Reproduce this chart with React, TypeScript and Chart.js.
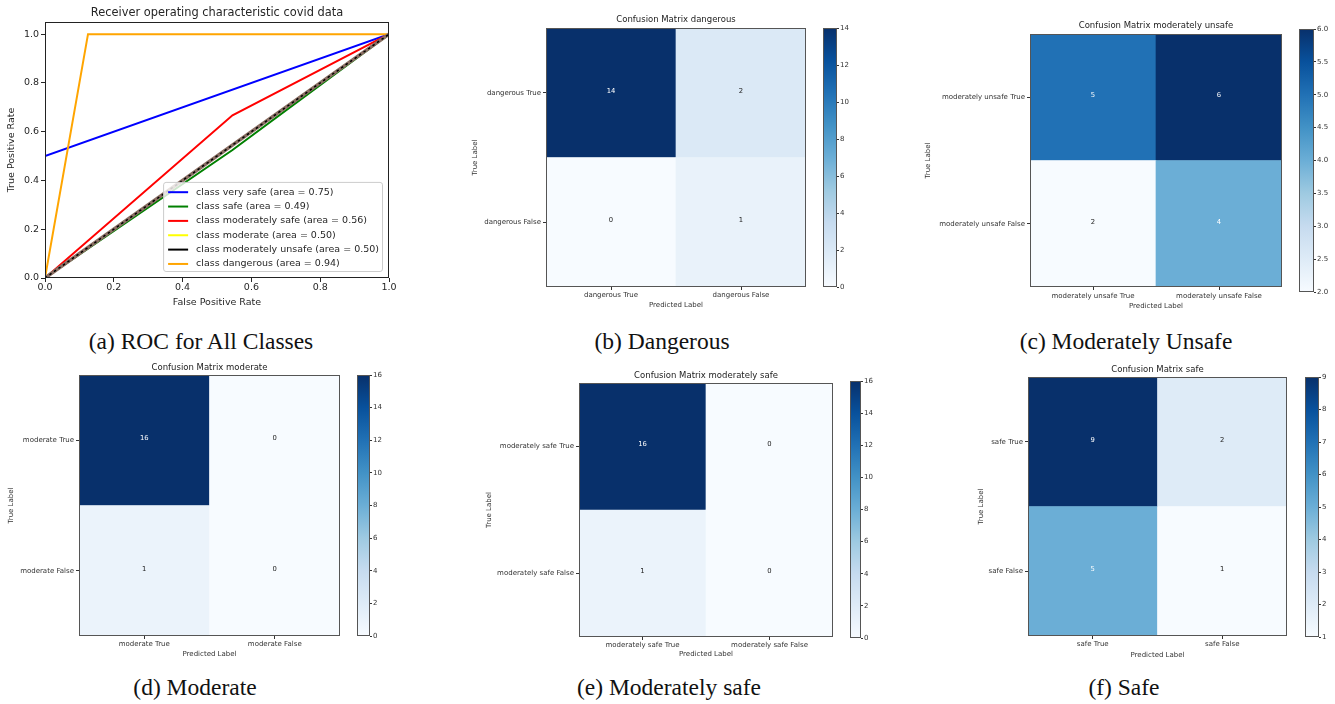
import React, { useEffect, useRef } from 'react';
import { Chart, registerables } from 'chart.js';

Chart.register(...registerables);

const FONT = 'DejaVu Sans';
Chart.defaults.font.family = FONT;
Chart.defaults.color = '#333';

// ---------- ROC data ----------
const ROC_CLASSES = ['very safe', 'safe', 'moderately safe', 'moderate', 'moderately unsafe', 'dangerous'];
const ROC_AUC = [0.75, 0.49, 0.56, 0.5, 0.5, 0.94];
const ROC_FPR = [[0, 0, 1], [0, 0.545, 1], [0, 0.545, 1], [0, 1], [0, 1], [0, 0.125, 1]];
const ROC_TPR = [[0, 0.5, 1], [0, 0.525, 1], [0, 0.667, 1], [0, 1], [0, 1], [0, 1, 1]];
const ROC_COLORS = ['#0000ff', '#008000', '#ff0000', '#ffff00', '#000000', '#ffa500'];
const CHANCE_X = [0, 1];
const CHANCE_Y = [0, 1];
const ROC_TICKS = [0, 0.2, 0.4, 0.6, 0.8, 1.0];

// ---------- Confusion matrices ----------
const DANGEROUS_LABELS = ['dangerous True', 'dangerous False'];
const DANGEROUS_CM = [[14, 2], [0, 1]];
const DANGEROUS_CBAR = [0, 2, 4, 6, 8, 10, 12, 14];

const MOD_UNSAFE_LABELS = ['moderately unsafe True', 'moderately unsafe False'];
const MOD_UNSAFE_CM = [[5, 6], [2, 4]];
const MOD_UNSAFE_CBAR = [2, 2.5, 3, 3.5, 4, 4.5, 5, 5.5, 6];

const MODERATE_LABELS = ['moderate True', 'moderate False'];
const MODERATE_CM = [[16, 0], [1, 0]];
const MODERATE_CBAR = [0, 2, 4, 6, 8, 10, 12, 14, 16];

const MOD_SAFE_LABELS = ['moderately safe True', 'moderately safe False'];
const MOD_SAFE_CM = [[16, 0], [1, 0]];
const MOD_SAFE_CBAR = [0, 2, 4, 6, 8, 10, 12, 14, 16];

const SAFE_LABELS = ['safe True', 'safe False'];
const SAFE_CM = [[9, 2], [5, 1]];
const SAFE_CBAR = [1, 2, 3, 4, 5, 6, 7, 8, 9];

const CAPTIONS = ['(a) ROC for All Classes', '(b) Dangerous', '(c) Moderately Unsafe', '(d) Moderate', '(e) Moderately safe', '(f) Safe'];

// ---------- layout ----------
const CAPTION_POS = [
  { x: 201, y: 342 }, { x: 662, y: 342 }, { x: 1126, y: 342 },
  { x: 195, y: 688 }, { x: 669, y: 688 }, { x: 1124, y: 688 },
];

const PANELS = [
  { id: 'b', title: 'Confusion Matrix dangerous', labels: DANGEROUS_LABELS, cm: DANGEROUS_CM, cbar: DANGEROUS_CBAR,
    box: { L: 546, R: 806, T: 28, B: 287 }, cb: { L: 823, R: 837, T: 28, B: 287 }, titleY: 20, yTitleX: 475, xTickY: 295, xLabelY: 305 },
  { id: 'c', title: 'Confusion Matrix moderately unsafe', labels: MOD_UNSAFE_LABELS, cm: MOD_UNSAFE_CM, cbar: MOD_UNSAFE_CBAR,
    box: { L: 1030, R: 1282, T: 34, B: 287 }, cb: { L: 1299, R: 1314, T: 29, B: 292 }, titleY: 26, yTitleX: 928, xTickY: 296, xLabelY: 306 },
  { id: 'd', title: 'Confusion Matrix moderate', labels: MODERATE_LABELS, cm: MODERATE_CM, cbar: MODERATE_CBAR,
    box: { L: 79, R: 340, T: 375, B: 636 }, cb: { L: 357, R: 370, T: 375, B: 636 }, titleY: 368, yTitleX: 11, xTickY: 644, xLabelY: 654 },
  { id: 'e', title: 'Confusion Matrix moderately safe', labels: MOD_SAFE_LABELS, cm: MOD_SAFE_CM, cbar: MOD_SAFE_CBAR,
    box: { L: 579, R: 833, T: 383, B: 637 }, cb: { L: 850, R: 861, T: 381, B: 638 }, titleY: 376, yTitleX: 489, xTickY: 645, xLabelY: 654 },
  { id: 'f', title: 'Confusion Matrix safe', labels: SAFE_LABELS, cm: SAFE_CM, cbar: SAFE_CBAR,
    box: { L: 1028, R: 1287, T: 377, B: 636 }, cb: { L: 1305, R: 1319, T: 377, B: 637 }, titleY: 370, yTitleX: 981, xTickY: 644, xLabelY: 655 },
];

// ---------- colormap ----------
const BLUES = ['#f7fbff', '#deebf7', '#c6dbef', '#9ecae1', '#6baed6', '#4292c6', '#2171b5', '#08519c', '#08306b'];
function hexRgb(h: string) {
  return [parseInt(h.slice(1, 3), 16), parseInt(h.slice(3, 5), 16), parseInt(h.slice(5, 7), 16)];
}
function blues(t: number) {
  const tt = Math.max(0, Math.min(1, isFinite(t) ? t : 0));
  const p = tt * 8;
  const i = Math.min(7, Math.floor(p));
  const f = p - i;
  const a = hexRgb(BLUES[i]);
  const b = hexRgb(BLUES[i + 1]);
  const c = a.map((v, k) => Math.round(v + (b[k] - v) * f));
  return `rgb(${c[0]},${c[1]},${c[2]})`;
}

// ---------- plugins ----------
const framePlugin = {
  id: 'frame',
  afterDatasetsDraw(chart: any, _args: any, opts: any) {
    const { ctx, chartArea: a } = chart;
    ctx.save();
    ctx.strokeStyle = opts.color || '#444';
    ctx.lineWidth = opts.width || 1;
    const l = Math.round(a.left), t = Math.round(a.top), r = Math.round(a.right), b = Math.round(a.bottom);
    ctx.strokeRect(l + 0.5, t + 0.5, r - l - 1, b - t - 1);
    ctx.restore();
  },
};

const cellTextPlugin = {
  id: 'cellText',
  afterDatasetsDraw(chart: any) {
    const ctx = chart.ctx;
    ctx.save();
    ctx.font = `6.8px ${FONT}`;
    ctx.textAlign = 'center';
    ctx.textBaseline = 'middle';
    chart.data.datasets.forEach((ds: any, di: number) => {
      const meta = chart.getDatasetMeta(di);
      meta.data.forEach((el: any, j: number) => {
        const v = ds.values[j];
        const { x, y, base } = el.getProps(['x', 'y', 'base'], true);
        ctx.fillStyle = v > ds.thresh ? '#ffffff' : '#222222';
        ctx.fillText(String(v), x, (y + base) / 2 - 2);
      });
    });
    ctx.restore();
  },
};

const rocLegendPlugin = {
  id: 'rocLegend',
  afterDatasetsDraw(chart: any) {
    const { ctx, chartArea: a } = chart;
    const items = chart.data.datasets.filter((d: any) => d.inLegend);
    ctx.save();
    ctx.font = `9.5px ${FONT}`;
    const tw = Math.max(...items.map((d: any) => ctx.measureText(d.label).width));
    const rowH = 14.35;
    const w = 33 + tw + 3;
    const h = items.length * rowH + 3;
    const x = a.right - 7 - w;
    const y = a.bottom - 7 - h;
    ctx.beginPath();
    if ((ctx as any).roundRect) (ctx as any).roundRect(x + 0.5, y + 0.5, w, h, 2.5);
    else ctx.rect(x + 0.5, y + 0.5, w, h);
    ctx.fillStyle = 'rgba(255,255,255,0.8)';
    ctx.fill();
    ctx.strokeStyle = '#cccccc';
    ctx.lineWidth = 1;
    ctx.stroke();
    items.forEach((d: any, i: number) => {
      const cy = y + 10.3 + i * rowH;
      ctx.strokeStyle = d.borderColor;
      ctx.lineWidth = 2;
      ctx.beginPath();
      ctx.moveTo(x + 5, cy);
      ctx.lineTo(x + 25, cy);
      ctx.stroke();
      ctx.fillStyle = '#262626';
      ctx.textAlign = 'left';
      ctx.textBaseline = 'middle';
      ctx.fillText(d.label, x + 33, cy);
    });
    ctx.restore();
  },
};

// ---------- configs ----------
function rocConfig(): any {
  const n = ROC_CLASSES.length;
  const datasets: any[] = ROC_CLASSES.map((c, i) => ({
    label: `class ${c} (area = ${ROC_AUC[i].toFixed(2)})`,
    data: ROC_FPR[i].map((x, k) => ({ x, y: ROC_TPR[i][k] })),
    borderColor: ROC_COLORS[i],
    backgroundColor: ROC_COLORS[i],
    borderWidth: 2,
    pointRadius: 0,
    showLine: true,
    order: 20 - i,
    inLegend: true,
  }));
  datasets.push({
    label: '',
    data: CHANCE_X.map((x, k) => ({ x, y: CHANCE_Y[k] })),
    borderColor: '#8a6e63',
    borderWidth: 3.5,
    pointRadius: 0,
    showLine: true,
    order: 2,
  });
  datasets.push({
    label: '',
    data: CHANCE_X.map((x, k) => ({ x, y: CHANCE_Y[k] })),
    borderColor: '#000000',
    borderWidth: 1.5,
    borderDash: [2.5, 3],
    pointRadius: 0,
    showLine: true,
    order: 1,
  });
  const tickFont = { size: 9.5, family: FONT };
  return {
    type: 'scatter',
    data: { datasets },
    plugins: [framePlugin, rocLegendPlugin],
    options: {
      responsive: false,
      maintainAspectRatio: false,
      animation: false,
      layout: { padding: { top: 0, left: 0, right: 11, bottom: 0 } },
      plugins: {
        legend: { display: false },
        tooltip: { enabled: false },
        frame: { color: '#222' },
        title: {
          display: true,
          text: 'Receiver operating characteristic covid data',
          fullSize: false,
          color: '#262626',
          font: { size: 11.4, weight: 'normal', lineHeight: 1.2, family: FONT },
          padding: { top: 5.85, bottom: 2.45 },
        },
      },
      scales: {
        x: {
          type: 'linear',
          min: 0,
          max: 1,
          afterBuildTicks: (s: any) => { s.ticks = ROC_TICKS.map((v) => ({ value: v })); },
          afterFit: (s: any) => { s.height = 32; },
          ticks: { font: tickFont, color: '#262626', padding: 0, maxRotation: 0, callback: (v: any) => Number(v).toFixed(1) },
          grid: { drawOnChartArea: false, tickLength: 4, color: '#262626' },
          border: { display: false },
          title: { display: true, text: 'False Positive Rate', color: '#262626', font: { size: 9.5, family: FONT, lineHeight: 1.2 }, padding: { top: 0, bottom: 1.6 } },
        },
        y: {
          type: 'linear',
          min: 0,
          max: 1.05,
          afterBuildTicks: (s: any) => { s.ticks = ROC_TICKS.map((v) => ({ value: v })); },
          afterFit: (s: any) => { s.width = 45; },
          ticks: { font: tickFont, color: '#262626', padding: 2, callback: (v: any) => Number(v).toFixed(1) },
          grid: { drawOnChartArea: false, tickLength: 4, color: '#262626' },
          border: { display: false },
          title: { display: true, text: 'True Positive Rate', color: '#262626', font: { size: 9.5, family: FONT, lineHeight: 1.2 }, padding: { top: 6.3, bottom: 0 } },
        },
      },
    },
  };
}

function geo(p: any) {
  const cx = Math.round(p.yTitleX - 8.2);
  const cy = Math.round(p.titleY - 8);
  const cb = Math.round(p.xLabelY + 7);
  const cr = p.box.R + 6;
  return {
    x: cx, y: cy, w: cr - cx, h: cb - cy,
    yAxisW: p.box.L - cx,
    yTitlePad: p.yTitleX - 4.2 - cx,
    tPadTop: p.titleY - 5.1 - cy,
    tPadBottom: p.box.T - p.titleY - 5.1,
    xAxisH: cb - p.box.B,
    xTitlePad: cb - p.xLabelY - 4.2,
    xTickPad: Math.max(0, p.xTickY - p.box.B - 3 - 4.2),
  };
}

function matrixConfig(p: any, g: any): any {
  const flat: number[] = p.cm.flat();
  const lo = Math.min(...flat);
  const hi = Math.max(...flat);
  const thresh = hi / 2;
  const datasets = [1, 0].map((r) => ({
    label: p.labels[r],
    data: p.cm[r].map(() => 1),
    values: p.cm[r],
    thresh,
    backgroundColor: p.cm[r].map((v: number) => blues((v - lo) / (hi - lo))),
    barPercentage: 1,
    categoryPercentage: 1,
    borderWidth: 0,
  }));
  const f7 = { size: 7, family: FONT, lineHeight: 1.2 };
  return {
    type: 'bar',
    data: { labels: p.labels, datasets },
    plugins: [cellTextPlugin, framePlugin],
    options: {
      responsive: false,
      maintainAspectRatio: false,
      animation: false,
      layout: { padding: { top: 0, left: 0, right: 6, bottom: 0 } },
      plugins: {
        legend: { display: false },
        tooltip: { enabled: false },
        frame: { color: '#555' },
        title: {
          display: true,
          text: p.title,
          fullSize: false,
          color: '#222',
          font: { size: 8.5, weight: 'normal', lineHeight: 1.2, family: FONT },
          padding: { top: g.tPadTop, bottom: g.tPadBottom },
        },
      },
      scales: {
        x: {
          stacked: true,
          afterFit: (s: any) => { s.height = g.xAxisH; },
          ticks: { font: f7, color: '#333', padding: g.xTickPad, maxRotation: 0, autoSkip: false },
          grid: { offset: false, drawOnChartArea: false, tickLength: 3, color: '#333' },
          border: { display: false },
          title: { display: true, text: 'Predicted Label', color: '#333', font: f7, padding: { top: 0, bottom: g.xTitlePad } },
        },
        y: {
          stacked: true,
          min: 0,
          max: 2,
          afterBuildTicks: (s: any) => { s.ticks = [{ value: 0.5 }, { value: 1.5 }]; },
          afterFit: (s: any) => { s.width = g.yAxisW; },
          ticks: { font: f7, color: '#333', padding: 2, autoSkip: false, callback: (v: any) => (Number(v) > 1 ? p.labels[0] : p.labels[1]) },
          grid: { drawOnChartArea: false, tickLength: 3, color: '#333' },
          border: { display: false },
          title: { display: true, text: 'True Label', color: '#333', font: f7, padding: { top: g.yTitlePad, bottom: 0 } },
        },
      },
    },
  };
}

function cbarConfig(p: any): any {
  const flat: number[] = p.cm.flat();
  const lo = Math.min(...flat);
  const hi = Math.max(...flat);
  const ticks: number[] = p.cbar;
  const frac = ticks.some((v) => !Number.isInteger(v));
  return {
    type: 'bar',
    data: {
      labels: [''],
      datasets: [{
        data: [[lo, hi]],
        backgroundColor: (c: any) => {
          const a = c.chart.chartArea;
          if (!a) return BLUES[0];
          const gr = c.chart.ctx.createLinearGradient(0, a.bottom, 0, a.top);
          BLUES.forEach((col, i) => gr.addColorStop(i / 8, col));
          return gr;
        },
        barPercentage: 1,
        categoryPercentage: 1,
        borderWidth: 0,
      }],
    },
    plugins: [framePlugin],
    options: {
      responsive: false,
      maintainAspectRatio: false,
      animation: false,
      layout: { padding: { top: 6, bottom: 6, left: 0, right: 0 } },
      plugins: { legend: { display: false }, tooltip: { enabled: false }, frame: { color: '#555' } },
      scales: {
        x: { display: false },
        y: {
          position: 'right',
          min: lo,
          max: hi,
          afterBuildTicks: (s: any) => { s.ticks = ticks.map((v) => ({ value: v })); },
          afterFit: (s: any) => { s.width = 24; },
          ticks: { font: { size: 7, family: FONT }, color: '#333', padding: 1, callback: (v: any) => (frac ? Number(v).toFixed(1) : String(v)) },
          grid: { drawOnChartArea: false, tickLength: 2, color: '#333' },
          border: { display: false },
        },
      },
    },
  };
}

// ---------- components ----------
function ChartCanvas({ rect, build }: { rect: any; build: () => any }) {
  const ref = useRef<HTMLCanvasElement | null>(null);
  useEffect(() => {
    if (!ref.current) return;
    const chart = new Chart(ref.current, build());
    return () => chart.destroy();
  }, []);
  return (
    <canvas
      ref={ref}
      width={rect.w}
      height={rect.h}
      style={{ position: 'absolute', left: rect.x, top: rect.y, width: rect.w, height: rect.h }}
    />
  );
}

export default function App() {
  return (
    <div style={{ position: 'absolute', left: 0, top: 0, width: 1335, height: 704, background: '#ffffff', overflow: 'hidden' }}>
      <ChartCanvas rect={{ x: 0, y: 0, w: 400, h: 310 }} build={rocConfig} />
      {PANELS.map((p) => {
        const g = geo(p);
        const cbRect = { x: p.cb.L, y: p.cb.T - 6, w: p.cb.R - p.cb.L + 24, h: p.cb.B - p.cb.T + 12 };
        return (
          <React.Fragment key={p.id}>
            <ChartCanvas rect={g} build={() => matrixConfig(p, g)} />
            <ChartCanvas rect={cbRect} build={() => cbarConfig(p)} />
          </React.Fragment>
        );
      })}
      {CAPTIONS.map((c, i) => (
        <div
          key={c}
          style={{
            position: 'absolute',
            left: CAPTION_POS[i].x,
            top: CAPTION_POS[i].y,
            transform: 'translate(-50%, -50%)',
            fontFamily: '"Liberation Serif", "Times New Roman", serif',
            fontSize: 23.5,
            lineHeight: 1,
            color: '#111',
            whiteSpace: 'nowrap',
          }}
        >
          {c}
        </div>
      ))}
    </div>
  );
}
